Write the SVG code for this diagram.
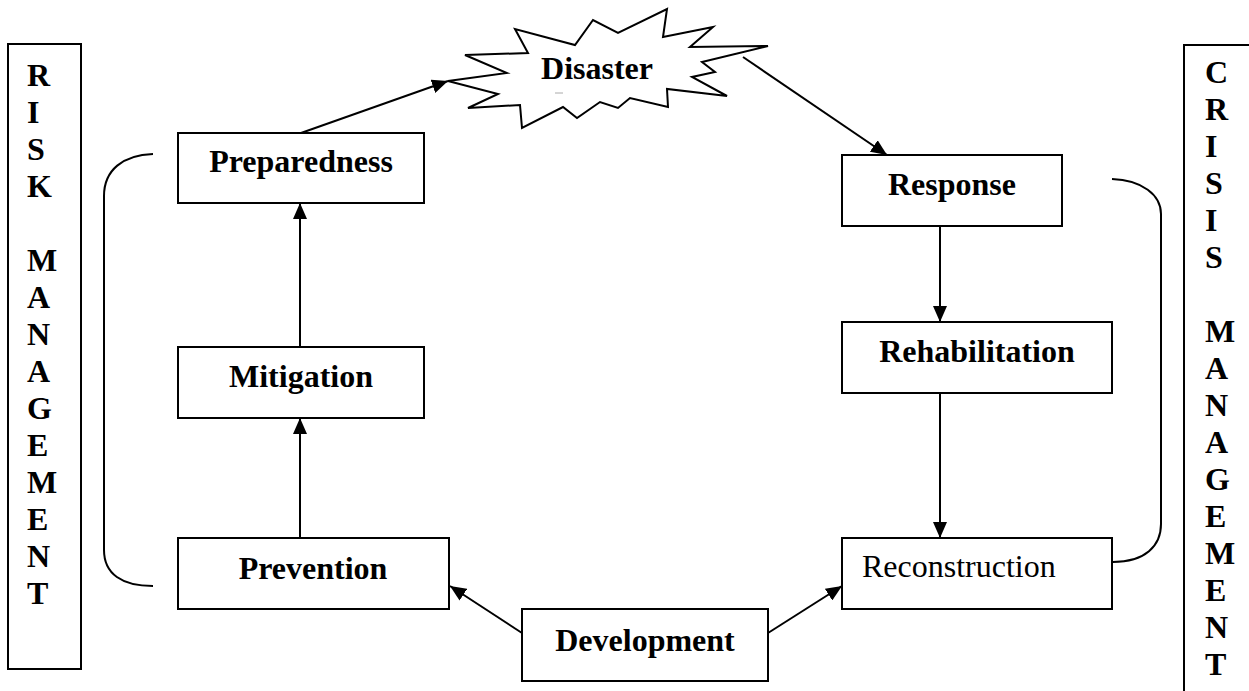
<svg xmlns="http://www.w3.org/2000/svg" width="1249" height="691" viewBox="0 0 1249 691">
<style>
.box{fill:#fff;stroke:#000;stroke-width:2}
.lbl{font-family:"Liberation Serif","Times New Roman",serif;font-size:32px;font-weight:bold;fill:#000}
.reg{font-family:"Liberation Serif","Times New Roman",serif;font-size:32px;fill:#000}
.conn{fill:none;stroke:#000;stroke-width:2}
.brk{fill:none;stroke:#000;stroke-width:2}
</style>
<defs>
<marker id="ah" markerUnits="userSpaceOnUse" markerWidth="16" markerHeight="14" refX="16" refY="7" orient="auto">
<path d="M0,0 L16,7 L0,14 z" fill="#000"/>
</marker>
</defs>
<rect width="1249" height="691" fill="#fff"/>

<g id="risk-management">
<rect class="box" x="8" y="44" width="73" height="625"/>
<g class="lbl">
<text x="27" y="86">R</text>
<text x="27" y="123">I</text>
<text x="27" y="160">S</text>
<text x="27" y="197">K</text>
<text x="27" y="271">M</text>
<text x="27" y="308">A</text>
<text x="27" y="345">N</text>
<text x="27" y="382">A</text>
<text x="27" y="419">G</text>
<text x="27" y="456">E</text>
<text x="27" y="493">M</text>
<text x="27" y="530">E</text>
<text x="27" y="567">N</text>
<text x="27" y="604">T</text>
</g>
</g>

<g id="crisis-management">
<rect class="box" x="1184" y="45" width="80" height="660"/>
<g class="lbl">
<text x="1205" y="83">C</text>
<text x="1205" y="120">R</text>
<text x="1205" y="157">I</text>
<text x="1205" y="194">S</text>
<text x="1205" y="231">I</text>
<text x="1205" y="268">S</text>
<text x="1205" y="342">M</text>
<text x="1205" y="379">A</text>
<text x="1205" y="416">N</text>
<text x="1205" y="453">A</text>
<text x="1205" y="490">G</text>
<text x="1205" y="527">E</text>
<text x="1205" y="564">M</text>
<text x="1205" y="601">E</text>
<text x="1205" y="638">N</text>
<text x="1205" y="675">T</text>
</g>
</g>

<g id="brackets">
<path class="brk" d="M153,154 C123,155 104,170 104,196 L104,550 C104,574 122,586 153,586"/>
<path class="brk" d="M1112,179 C1142,180 1161,195 1161,214 L1161,524 C1161,546 1145,562 1113,562"/>
</g>

<g id="connectors">
<line class="conn" x1="301" y1="133" x2="448" y2="81" marker-end="url(#ah)"/>
<line class="conn" x1="743" y1="57" x2="887" y2="155" marker-end="url(#ah)"/>
<line class="conn" x1="940" y1="226" x2="940" y2="322" marker-end="url(#ah)"/>
<line class="conn" x1="940" y1="393" x2="940" y2="538" marker-end="url(#ah)"/>
<line class="conn" x1="300" y1="347" x2="300" y2="203" marker-end="url(#ah)"/>
<line class="conn" x1="300" y1="538" x2="300" y2="418" marker-end="url(#ah)"/>
<line class="conn" x1="522" y1="633" x2="450" y2="586" marker-end="url(#ah)"/>
<line class="conn" x1="768" y1="633" x2="842" y2="586" marker-end="url(#ah)"/>
</g>

<g id="disaster">
<path class="box" d="M448,81 L507,73 L465,55 L528,53 L515,29 L575,45 L593,20 L618,33 L667,9 L663,37 L713,27 L690,47 L768,46 L702,62 L715,72 L692,77 L727,96 L667,89 L668,107 L630,98 L618,108 L600,102 L577,118 L563,107 L522,128 L520,105 L468,108 L498,94 Z"/>
<text class="lbl" x="597" y="79" text-anchor="middle">Disaster</text>
<line x1="555" y1="93" x2="563" y2="93" stroke="#aaa" stroke-width="1"/>
</g>

<g id="preparedness">
<rect class="box" x="178" y="133" width="246" height="70"/>
<text class="lbl" x="301" y="172" text-anchor="middle">Preparedness</text>
</g>

<g id="mitigation">
<rect class="box" x="178" y="347" width="246" height="71"/>
<text class="lbl" x="301" y="387" text-anchor="middle">Mitigation</text>
</g>

<g id="prevention">
<rect class="box" x="178" y="538" width="271" height="71"/>
<text class="lbl" x="313" y="579" text-anchor="middle">Prevention</text>
</g>

<g id="response">
<rect class="box" x="842" y="155" width="220" height="71"/>
<text class="lbl" x="952" y="195" text-anchor="middle">Response</text>
</g>

<g id="rehabilitation">
<rect class="box" x="842" y="322" width="270" height="71"/>
<text class="lbl" x="977" y="362" text-anchor="middle">Rehabilitation</text>
</g>

<g id="reconstruction">
<rect class="box" x="842" y="538" width="270" height="71"/>
<text class="reg" x="862" y="577">Reconstruction</text>
</g>

<g id="development">
<rect class="box" x="522" y="609" width="246" height="72"/>
<text class="lbl" x="645" y="651" text-anchor="middle">Development</text>
</g>
</svg>
